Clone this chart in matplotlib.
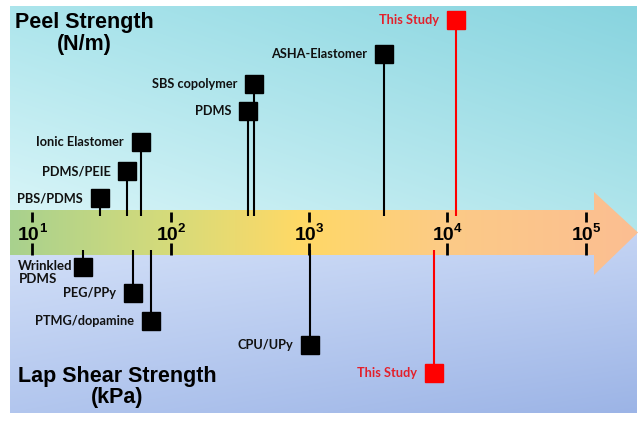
import matplotlib
matplotlib.use("Agg")
import matplotlib.pyplot as plt
import matplotlib.transforms as mtransforms
import numpy as np
from matplotlib.patches import Polygon

# peel strength (N/m), shown above the arrow
peel_labels = ["PBS/PDMS", "PDMS/PEIE", "Ionic Elastomer", "PDMS",
               "SBS copolymer", "ASHA-Elastomer", "This Study"]
peel_values = [30.6, 48.7, 61, 364, 402, 3475, 11600]

# lap shear strength (kPa), shown below the arrow
shear_labels = ["Wrinkled\nPDMS", "PEG/PPy", "PTMG/dopamine", "CPU/UPy", "This Study"]
shear_values = [23.2, 53.5, 71.5, 1016, 7925]

decades = [1e1, 1e2, 1e3, 1e4, 1e5]
decade_exps = ["1", "2", "3", "4", "5"]

# layout: pixel rows of the markers on the 640x423 canvas
peel_rows = [198.5, 171.5, 142, 111, 84, 54.5, 20.5]
shear_rows = [267.5, 293, 321, 345, 373]

W, H = 640, 423
PX0, DEC = 32.3, 138.4          # pixel of 10^1, pixels per decade
ARROW_TOP, ARROW_BOT, MID = 210, 255, 232.5

LABEL_FONT = "Lato"
TITLE_FONT = "Liberation Sans"
RED = "#ff0000"
RED_TEXT = "#e3202b"


def bilinear(tl, tr, bl, br, nx=200, ny=120):
    tl, tr, bl, br = (np.array(c, float) / 255 for c in (tl, tr, bl, br))
    u = np.linspace(0, 1, nx)[None, :, None]
    v = np.linspace(0, 1, ny)[:, None, None]
    top = tl * (1 - u) + tr * u
    bot = bl * (1 - u) + br * u
    return top * (1 - v) + bot * v


def horizontal(stops, nx=400):
    xs = np.array([s[0] for s in stops], float)
    cols = np.array([s[1] for s in stops], float) / 255
    grid = np.linspace(xs[0], xs[-1], nx)
    img = np.stack([np.interp(grid, xs, cols[:, k]) for k in range(3)], axis=-1)
    return img[None, :, :]


fig = plt.figure(figsize=(6.4, 4.23), dpi=100)
fig.patch.set_facecolor("white")

# background layer in pixel coordinates
bg = fig.add_axes([0, 0, 1, 1])
bg.imshow(bilinear((172, 229, 236), (136, 212, 223), (220, 246, 249), (178, 230, 236)),
          extent=(10, 637, MID, 7), aspect="auto", interpolation="bilinear")
bg.imshow(bilinear((212, 225, 248), (196, 212, 244), (178, 198, 238), (156, 180, 230)),
          extent=(10, 637, 413, MID), aspect="auto", interpolation="bilinear")

arrow = Polygon([(10, ARROW_TOP), (594, ARROW_TOP), (594, 192), (638, MID),
                 (594, 275), (594, ARROW_BOT), (10, ARROW_BOT)],
                closed=True, facecolor="none", edgecolor="none")
bg.add_patch(arrow)
grad = bg.imshow(horizontal([(10, (168, 209, 142)), (170, (214, 219, 122)),
                             (300, (255, 217, 102)), (450, (252, 202, 135)),
                             (638, (251, 190, 146))]),
                 extent=(10, 638, 275, 192), aspect="auto", interpolation="bilinear")
grad.set_clip_path(arrow)
bg.set_xlim(0, W)
bg.set_ylim(H, 0)
bg.axis("off")

title_kw = dict(ha="center", va="baseline", fontsize=15.5, fontweight="bold",
                family=TITLE_FONT, color="black")
bg.text(84, 28, "Peel Strength", **title_kw)
bg.text(84, 50, "(N/m)", **title_kw)
bg.text(117, 382, "Lap Shear Strength", **title_kw)
bg.text(117, 403, "(kPa)", **title_kw)

# data layer: log-scaled x axis
ax = fig.add_axes([0, 0, 1, 1], facecolor="none")
ax.set_xscale("log")
ax.set_xlim(10 ** (1 - PX0 / DEC), 10 ** (1 + (W - PX0) / DEC))
ax.set_ylim(H, 0)
ax.axis("off")

ax.vlines(decades, ARROW_TOP + 2, 222, color="black", lw=2)
ax.vlines(decades, 243, ARROW_BOT, color="black", lw=2)
base_off = mtransforms.offset_copy(ax.transData, fig=fig, x=-3.5, units="dots")
exp_off = mtransforms.offset_copy(ax.transData, fig=fig, x=6.5, units="dots")
for d, e in zip(decades, decade_exps):
    ax.text(d, 240, "10", transform=base_off, ha="center", va="baseline",
            fontsize=14, fontweight="bold", family=TITLE_FONT)
    ax.text(d, 232, e, transform=exp_off, ha="left", va="baseline",
            fontsize=9.5, fontweight="bold", family=TITLE_FONT)

label_off = mtransforms.offset_copy(ax.transData, fig=fig, x=-17, units="dots")
multi_off = mtransforms.offset_copy(ax.transData, fig=fig, x=-10, y=-5, units="dots")


def draw_group(labels, values, rows, top_side):
    for lab, val, row in zip(labels, values, rows):
        is_ours = lab == "This Study"
        col = RED if is_ours else "black"
        if top_side:
            ax.vlines(val, row, 216, color=col, lw=1.5, zorder=2)
        else:
            ax.vlines(val, 250, row, color=col, lw=1.5, zorder=2)
        ax.plot([val], [row], marker="s", ms=13 if is_ours else 12.5,
                color=col, mec=col, ls="none", zorder=3)
        txt_col = RED_TEXT if is_ours else "#111111"
        if "\n" in lab:
            ax.text(val, row, lab, transform=multi_off, ha="right", va="center",
                    multialignment="left", fontsize=9.5, fontweight="bold",
                    family=LABEL_FONT, linespacing=1.15, color=txt_col)
        else:
            ax.text(val, row, lab, transform=label_off, ha="right", va="center",
                    fontsize=9.2, fontweight="bold", family=LABEL_FONT, color=txt_col)


draw_group(peel_labels, peel_values, peel_rows, True)
draw_group(shear_labels, shear_values, shear_rows, False)

fig.savefig("out.png", dpi=100, facecolor="white")
